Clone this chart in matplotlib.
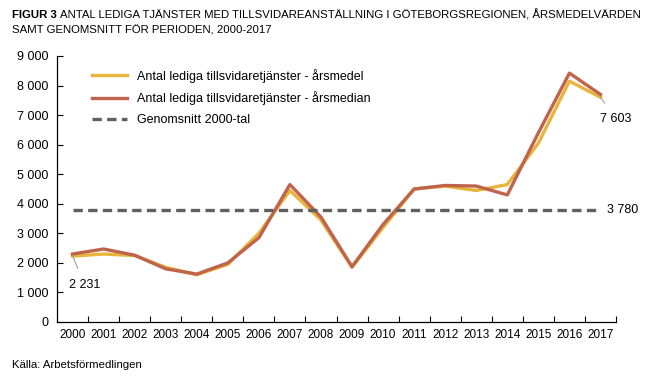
import matplotlib
matplotlib.use("Agg")
import matplotlib.pyplot as plt
import numpy as np

years = [str(y) for y in range(2000, 2018)]
mean_vals = [2231, 2300, 2250, 1850, 1600, 1950, 3000, 4450, 3450, 1850,
             3200, 4500, 4600, 4450, 4650, 6050, 8150, 7603]
median_vals = [2300, 2470, 2260, 1800, 1620, 2000, 2850, 4650, 3550, 1870,
               3300, 4500, 4620, 4600, 4300, 6400, 8420, 7700]
avg_val = 3780
yticks = list(range(0, 9001, 1000))

plt.rcParams['font.family'] = ['Liberation Sans', 'DejaVu Sans']

W, H = 654, 381
fig = plt.figure(figsize=(W/100, H/100), dpi=100)
ax = fig.add_axes([57/W, 1-322/H, (616-57)/W, (322-56)/H])

x = np.arange(len(years))
c_mean = '#E9B43C'
c_med = '#BF634B'
lw = 2.4
ax.plot(x, mean_vals, color=c_mean, lw=lw, label='Antal lediga tillsvidaretjänster - årsmedel')
ax.plot(x, median_vals, color=c_med, lw=lw, label='Antal lediga tillsvidaretjänster - årsmedian')
ax.plot(x, [avg_val]*len(x), color='#606060', lw=lw, ls=(0, (2.8, 1.6)), label='Genomsnitt 2000-tal')

ax.set_xlim(-0.5, len(years)-0.5)
ax.set_ylim(0, 9000)
ax.set_yticks(yticks)
ax.set_yticklabels([f"{v:,}".replace(",", " ") for v in yticks], fontsize=9)
ax.set_xticks(x)
ax.set_xticklabels(years, fontsize=8.5)
ax.set_xticks(np.arange(0.5, len(years), 1), minor=True)
ax.tick_params(axis='x', which='major', length=0, pad=5)
ax.tick_params(axis='x', which='minor', direction='in', length=4, width=0.8)
ax.tick_params(axis='y', direction='in', length=4, width=0.8, pad=6)
for s in ['top', 'right']:
    ax.spines[s].set_visible(False)
for s in ['left', 'bottom']:
    ax.spines[s].set_linewidth(0.9)

# annotations
ax.annotate(f"{mean_vals[0]:,}".replace(",", " "), xy=(0, mean_vals[0]), xytext=(0.4, 1250),
            fontsize=9, ha='center', va='center',
            arrowprops=dict(arrowstyle='-', color='#A0A0A0', lw=0.8, shrinkA=6, shrinkB=0))
ax.annotate(f"{mean_vals[-1]:,}".replace(",", " "), xy=(17, mean_vals[-1]), xytext=(17.5, 6880),
            fontsize=9, ha='center', va='center', annotation_clip=False,
            arrowprops=dict(arrowstyle='-', color='#A0A0A0', lw=0.8, shrinkA=6, shrinkB=0))
ax.text(17.2, avg_val, f"{avg_val:,}".replace(",", " "), fontsize=9, ha='left', va='center')

leg = ax.legend(loc='upper left', bbox_to_anchor=(0.042, 0.995), frameon=False, fontsize=9,
                handlelength=2.8, handletextpad=0.8, labelspacing=0.7)

fs = 8.2
fig.text(12/W, 1-15/H, "FIGUR 3", fontsize=fs, fontweight='bold', va='center', ha='left')
fig.text(60/W, 1-15/H, "ANTAL LEDIGA TJÄNSTER MED TILLSVIDAREANSTÄLLNING I GÖTEBORGSREGIONEN, ÅRSMEDELVÄRDEN",
         fontsize=fs, va='center', ha='left')
fig.text(12/W, 1-30/H, "SAMT GENOMSNITT FÖR PERIODEN, 2000-2017", fontsize=fs, va='center', ha='left')
fig.text(12/W, 1-365/H, "Källa: Arbetsförmedlingen", fontsize=fs, va='center', ha='left')

fig.savefig("out.png", dpi=100)
